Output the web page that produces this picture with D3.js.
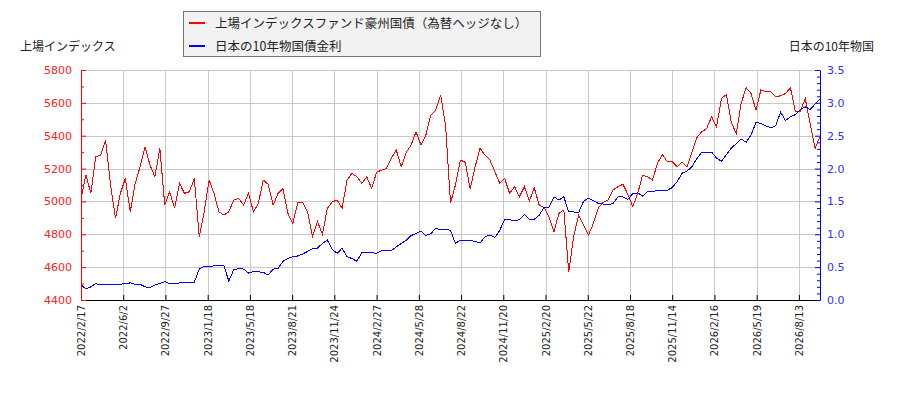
<!DOCTYPE html>
<html>
<head>
<meta charset="utf-8">
<script src="https://cdn.jsdelivr.net/npm/d3@7"></script>
<style>
  body { margin: 0; background: #fff; }
  text { font-family: "DejaVu Sans", "Noto Sans CJK JP", sans-serif; }
  .cjk { font-family: "Noto Sans CJK JP", sans-serif; }
</style>
</head>
<body>
<div id="chart"></div>
<script>
// tick labels on the date axis (one every 60 trading days)
let dateLabels = ["2022/2/17", "2022/6/2", "2022/9/27", "2023/1/18", "2023/5/18", "2023/8/21",
    "2023/11/24", "2024/2/27", "2024/5/28", "2024/8/22", "2024/11/20", "2025/2/20",
    "2025/5/22", "2025/8/18", "2025/11/14", "2026/2/16", "2026/5/19", "2026/8/13"];
let tickEvery = 60;   // trading days between labels
let stepDays = 7;     // trading days between samples below

// 上場インデックスファンド豪州国債（為替ヘッジなし） (left axis)
let fundValues = [
    5019, 5160, 5049, 5272, 5282, 5373, 5100, 4897, 5049, 5140,
    4937, 5110, 5211, 5333, 5221, 5150, 5323, 4978, 5059, 4958,
    5110, 5049, 5059, 5140, 4785, 4937, 5130, 5049, 4937, 4917,
    4937, 5008, 5019, 4978, 5049, 4937, 4988, 5130, 5104, 4978,
    5049, 5079, 4927, 4866, 4994, 4994, 4937, 4785, 4877, 4800,
    4958, 4998, 5008, 4958, 5130, 5171, 5150, 5110, 5150, 5079,
    5177, 5191, 5201, 5262, 5313, 5211, 5298, 5343, 5424, 5343,
    5404, 5526, 5556, 5647, 5465, 4990, 5100, 5252, 5238, 5075,
    5211, 5323, 5282, 5252, 5181, 5110, 5140, 5049, 5090, 5029,
    5090, 5002, 5083, 4978, 4962, 4907, 4816, 4927, 4948, 4572,
    4785, 4917, 4856, 4795, 4866, 4962, 4994, 5008, 5069, 5090,
    5104, 5043, 4968, 5049, 5160, 5150, 5130, 5232, 5286, 5242,
    5242, 5211, 5238, 5211, 5298, 5388, 5424, 5444, 5515, 5454,
    5627, 5651, 5481, 5414, 5597, 5692, 5657, 5556, 5678, 5668,
    5668, 5637, 5643, 5657, 5692, 5546, 5546, 5627, 5475, 5323,
    5394
];

// 日本の10年物国債金利 (right axis, %)
let jgbValues = [
    0.23, 0.17, 0.20, 0.25, 0.23, 0.24, 0.24, 0.24, 0.24, 0.25,
    0.26, 0.24, 0.24, 0.20, 0.19, 0.23, 0.25, 0.28, 0.25, 0.25,
    0.26, 0.26, 0.26, 0.27, 0.47, 0.51, 0.51, 0.52, 0.52, 0.52,
    0.29, 0.46, 0.48, 0.47, 0.41, 0.43, 0.43, 0.42, 0.38, 0.47,
    0.48, 0.59, 0.63, 0.66, 0.67, 0.70, 0.74, 0.78, 0.79, 0.86,
    0.91, 0.77, 0.71, 0.79, 0.66, 0.63, 0.59, 0.72, 0.73, 0.72,
    0.71, 0.75, 0.75, 0.75, 0.81, 0.86, 0.91, 0.98, 1.01, 1.05,
    0.98, 1.01, 1.09, 1.07, 1.08, 1.06, 0.86, 0.91, 0.91, 0.91,
    0.89, 0.87, 0.96, 0.99, 0.95, 1.06, 1.23, 1.22, 1.21, 1.22,
    1.30, 1.23, 1.23, 1.29, 1.41, 1.41, 1.57, 1.52, 1.57, 1.34,
    1.34, 1.33, 1.50, 1.55, 1.51, 1.47, 1.46, 1.45, 1.47, 1.57,
    1.57, 1.53, 1.62, 1.63, 1.58, 1.65, 1.65, 1.67, 1.66, 1.67,
    1.71, 1.80, 1.93, 1.96, 2.03, 2.15, 2.25, 2.25, 2.25, 2.16,
    2.11, 2.21, 2.31, 2.38, 2.45, 2.40, 2.51, 2.70, 2.69, 2.65,
    2.62, 2.65, 2.86, 2.73, 2.79, 2.82, 2.90, 2.94, 2.90, 2.98,
    3.06
];

let leftTicks = d3.range(4400, 5801, 200);
let leftMinor = d3.range(4500, 5800, 200);
let rightTicks = d3.range(0, 36, 5).map(v => v / 10);
let rightMinor = d3.range(0, 36).filter(v => v % 5 !== 0).map(v => v / 10);

let seriesNames = ["上場インデックスファンド豪州国債（為替ヘッジなし）", "日本の10年物国債金利"];
let seriesColors = ["#ff0000", "#0000ff"];

// set the dimensions and margins of the graph
let m = {top: 70, right: 80, bottom: 100, left: 81};
let w = 900 - m.left - m.right;
let h = 400 - m.top - m.bottom;

let root = d3.select("#chart")
    .append("svg")
    .attr("width", 900)
    .attr("height", 400);

let svg = root.append("g")
    .attr("transform", "translate(" + m.left + "," + m.top + ")");

let lastDay = (fundValues.length - 1) * stepDays;
let x = d3.scaleLinear().domain([0, lastDay]).range([0, w]);
let yL = d3.scaleLinear().domain([4400, 5800]).range([h, 0]);
let yR = d3.scaleLinear().domain([0, 3.5]).range([h, 0]);

let tickDays = dateLabels.map((d, i) => i * tickEvery);

// grid
svg.append("g")
    .selectAll("line")
    .data(tickDays)
    .enter()
    .append("line")
    .attr("x1", d => Math.round(x(d)) + 0.5)
    .attr("x2", d => Math.round(x(d)) + 0.5)
    .attr("y1", 0)
    .attr("y2", h)
    .attr("stroke", "#c8c8c8");

svg.append("g")
    .selectAll("line")
    .data(leftTicks)
    .enter()
    .append("line")
    .attr("x1", 0)
    .attr("x2", w)
    .attr("y1", d => Math.round(yL(d)) + 0.5)
    .attr("y2", d => Math.round(yL(d)) + 0.5)
    .attr("stroke", "#c8c8c8");

// lines
let fundLine = d3.line()
    .x((d, i) => x(i * stepDays))
    .y(d => yL(d));
let jgbLine = d3.line()
    .x((d, i) => x(i * stepDays))
    .y(d => yR(d));

svg.append("path")
    .datum(fundValues)
    .attr("d", fundLine)
    .attr("fill", "none")
    .attr("stroke", seriesColors[0])
    .attr("stroke-width", 1)
    .attr("shape-rendering", "crispEdges");

svg.append("path")
    .datum(jgbValues)
    .attr("d", jgbLine)
    .attr("fill", "none")
    .attr("stroke", seriesColors[1])
    .attr("stroke-width", 1)
    .attr("shape-rendering", "crispEdges");

// bottom axis
let xAxis = svg.append("g")
    .attr("transform", "translate(0," + h + ")")
    .call(d3.axisBottom(x)
        .tickValues(tickDays)
        .tickFormat((d, i) => dateLabels[i])
        .tickSize(-5)
        .tickSizeOuter(0));
xAxis.select(".domain").attr("stroke", "#000");
xAxis.selectAll("text")
    .attr("transform", "rotate(-90)")
    .attr("text-anchor", "end")
    .attr("x", -5)
    .attr("y", 0)
    .attr("dy", "0.35em")
    .attr("fill", "#222")
    .style("font-size", "10px");

// left axis
let leftAxis = svg.append("g")
    .call(d3.axisLeft(yL)
        .tickValues(leftTicks)
        .tickFormat(d3.format("d"))
        .tickSize(-5)
        .tickSizeOuter(0)
        .tickPadding(9));
svg.append("g")
    .call(d3.axisLeft(yL).tickValues(leftMinor).tickSize(-3).tickFormat(""))
    .call(g => g.select(".domain").remove())
    .selectAll("line").attr("stroke", "#ff0000");
leftAxis.select(".domain").attr("stroke", "#ff0000");
leftAxis.selectAll("line").attr("stroke", "#ff0000");
leftAxis.selectAll("text")
    .attr("fill", "#ff2020")
    .style("font-size", "11px");

// right axis
let rightAxis = svg.append("g")
    .attr("transform", "translate(" + w + ",0)")
    .call(d3.axisRight(yR)
        .tickValues(rightTicks)
        .tickFormat(d3.format(".1f"))
        .tickSize(-5)
        .tickSizeOuter(0)
        .tickPadding(7));
svg.append("g")
    .attr("transform", "translate(" + w + ",0)")
    .call(d3.axisRight(yR).tickValues(rightMinor).tickSize(-3).tickFormat(""))
    .call(g => g.select(".domain").remove())
    .selectAll("line").attr("stroke", "#0000ff");
rightAxis.select(".domain").attr("stroke", "#0000ff");
rightAxis.selectAll("line").attr("stroke", "#0000ff");
rightAxis.selectAll("text")
    .attr("fill", "#3030ff")
    .style("font-size", "11px");

// axis titles
root.append("text")
    .attr("class", "cjk")
    .attr("x", 20)
    .attr("y", 51)
    .attr("fill", "#222")
    .style("font-size", "12px")
    .text("上場インデックス");

root.append("text")
    .attr("class", "cjk")
    .attr("x", 874)
    .attr("y", 51)
    .attr("text-anchor", "end")
    .attr("fill", "#222")
    .style("font-size", "12px")
    .text("日本の10年物国");

// legend
let legend = root.append("g");
legend.append("rect")
    .attr("x", 183.5)
    .attr("y", 11.5)
    .attr("width", 357)
    .attr("height", 45)
    .attr("fill", "#f2f2f2")
    .attr("stroke", "#777");

let items = legend.selectAll(".item")
    .data(seriesNames)
    .enter()
    .append("g")
    .attr("transform", (d, i) => "translate(0," + (23 + i * 23) + ")");
items.append("line")
    .attr("x1", 189)
    .attr("x2", 205)
    .attr("stroke", (d, i) => seriesColors[i])
    .attr("stroke-width", 2);
items.append("text")
    .attr("class", "cjk")
    .attr("x", 215)
    .attr("dy", "0.38em")
    .attr("fill", "#222")
    .style("font-size", "12.5px")
    .text(d => d);
</script>
</body>
</html>
